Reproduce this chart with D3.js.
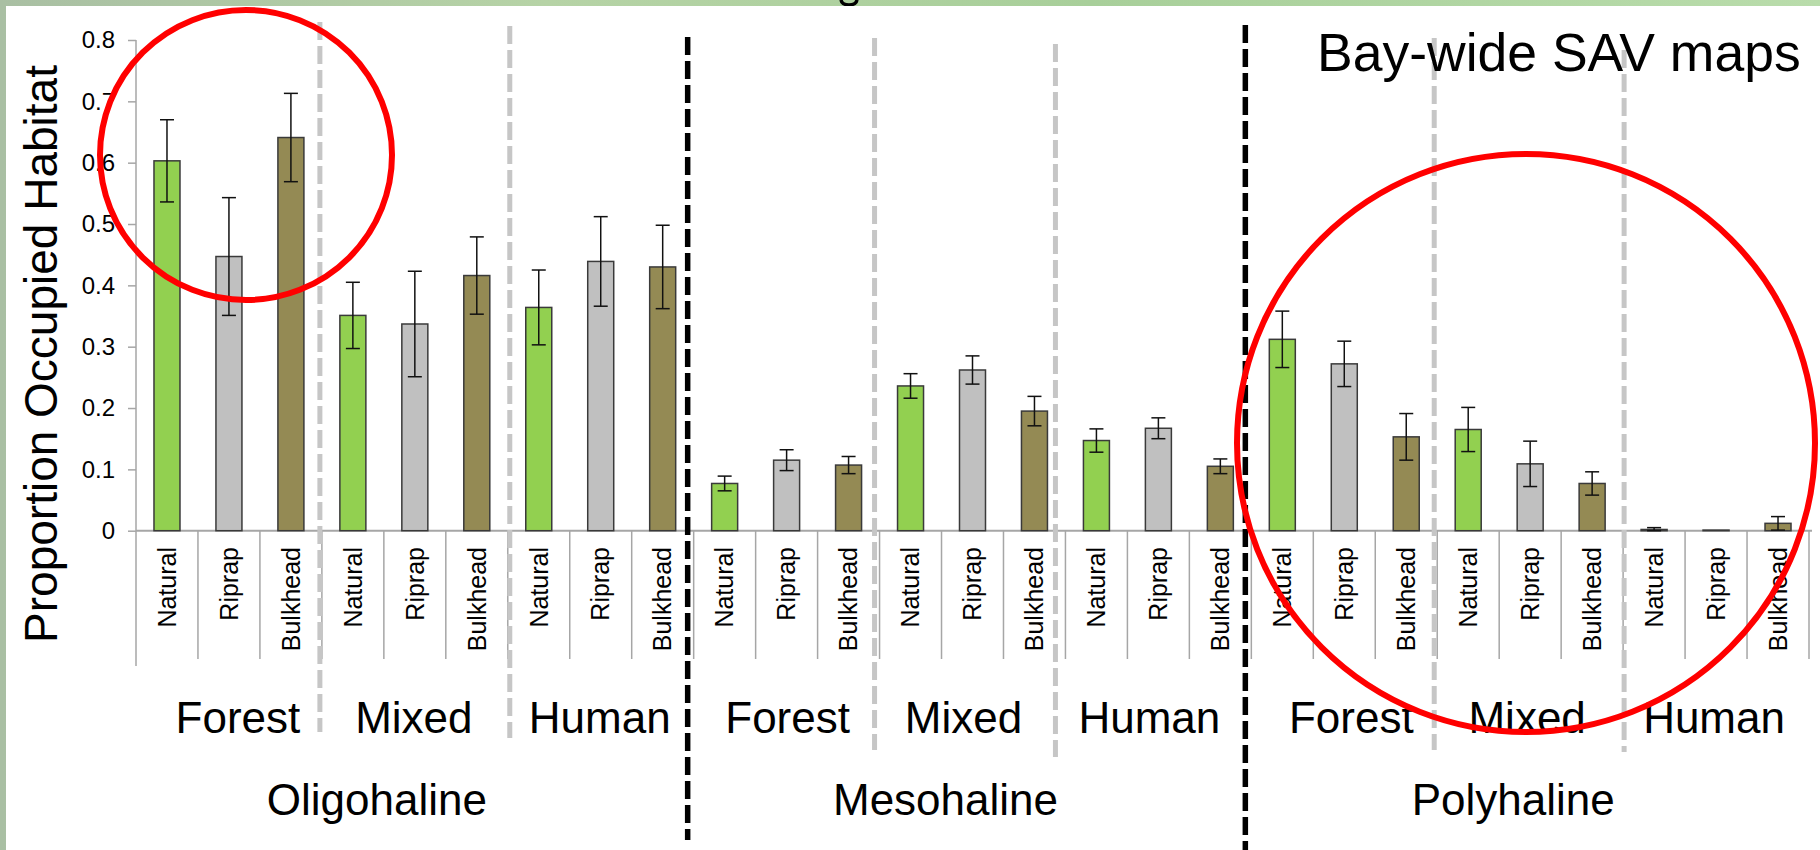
<!DOCTYPE html>
<html><head><meta charset="utf-8">
<script src="https://cdn.jsdelivr.net/npm/d3@7"></script>
<style>
html,body{margin:0;padding:0;background:#fff;}
svg{display:block;font-family:"Liberation Sans",Arial,Helvetica,sans-serif;}
</style>
</head><body>
<svg id="chart" width="1820" height="850"></svg>
<script>
// ---------- data ----------
const zones = ["Oligohaline", "Mesohaline", "Polyhaline"];
const landUses = ["Forest", "Mixed", "Human"];
const shorelines = ["Natural", "Riprap", "Bulkhead"];

// values ordered Forest(N,R,B), Mixed(N,R,B), Human(N,R,B)
const oligohalineValues = [0.603, 0.447, 0.641, 0.351, 0.337, 0.416, 0.364, 0.439, 0.430];
const oligohalineErrors = [0.067, 0.096, 0.072, 0.054, 0.086, 0.063, 0.061, 0.073, 0.068];
const mesohalineValues  = [0.077, 0.115, 0.107, 0.236, 0.262, 0.195, 0.147, 0.167, 0.105];
const mesohalineErrors  = [0.012, 0.017, 0.014, 0.020, 0.023, 0.024, 0.019, 0.017, 0.012];
const polyhalineValues  = [0.312, 0.272, 0.153, 0.165, 0.109, 0.077, 0.002, 0.001, 0.012];
const polyhalineErrors  = [0.046, 0.037, 0.038, 0.036, 0.037, 0.019, 0.003, 0.000, 0.011];

const yTicks = [0, 0.1, 0.2, 0.3, 0.4, 0.5, 0.6, 0.7, 0.8];
const yTickLabels = ["0", "0.1", "0.2", "0.3", "0.4", "0.5", "0.6", "0.7", "0.8"];
const yTitle = "Proportion Occupied Habitat";
const noteText = "Bay-wide SAV maps";

const shoreColors = ["#92d050", "#c0c0c0", "#948a54"];

// ---------- build rows ----------
const valuesByZone = [oligohalineValues, mesohalineValues, polyhalineValues];
const errorsByZone = [oligohalineErrors, mesohalineErrors, polyhalineErrors];
const rows = [];
zones.forEach((z, zi) => {
  landUses.forEach((g, gi) => {
    shorelines.forEach((s, si) => {
      const idx = gi * 3 + si;
      rows.push({zone: z, land: g, shore: s, si,
        key: z + "|" + g + "|" + s,
        value: valuesByZone[zi][idx], err: errorsByZone[zi][idx]});
    });
  });
});

// ---------- layout ----------
const svg = d3.select("#chart");
const W = 1820, H = 850;

// background (slide texture) + white panel
const defs = svg.append("defs");
const grad = defs.append("linearGradient").attr("id", "bg").attr("x1", "0").attr("x2", "1").attr("y1", "0").attr("y2", "0");
grad.append("stop").attr("offset", "0%").attr("stop-color", "#a9bfa3");
grad.append("stop").attr("offset", "30%").attr("stop-color", "#b6d3a6");
grad.append("stop").attr("offset", "60%").attr("stop-color", "#a8cf9a");
grad.append("stop").attr("offset", "100%").attr("stop-color", "#b9dcab");
svg.append("rect").attr("width", W).attr("height", H).attr("fill", "url(#bg)");
// fragment of the slide title's descender above the panel (drawn as a shape)
svg.append("path").attr("d", "M841,0 Q842,5 849,5 Q856,5 857,0")
  .attr("fill", "none").attr("stroke", "#000").attr("stroke-width", 3.5);
svg.append("rect").attr("x", 6).attr("y", 6).attr("width", W - 6).attr("height", H - 6).attr("fill", "#ffffff");

const x = d3.scaleBand().domain(rows.map(d => d.key)).range([136, 1809]).paddingInner(0).paddingOuter(0);
const y = d3.scaleLinear().domain([0, 0.8]).range([530.7, 40]);
const barW = 26;
const x0 = x.range()[0], step = x.step();
const boundary = k => x0 + k * step;

const axisColor = "#a6a6a6";

// y axis
const yAxis = svg.append("g").attr("transform", `translate(${x0},0)`)
  .call(d3.axisLeft(y).tickValues(yTicks).tickFormat((d, i) => yTickLabels[i]).tickSize(8).tickPadding(13));
yAxis.select(".domain").remove();
yAxis.selectAll(".tick line").attr("stroke", axisColor).attr("stroke-width", 1.5);
yAxis.selectAll(".tick text").attr("fill", "#000").style("font-size", "24px")
  .style("font-family", "'Liberation Sans',Arial,sans-serif");
svg.append("line").attr("x1", x0).attr("x2", x0).attr("y1", y(0.8)).attr("y2", 666)
  .attr("stroke", axisColor).attr("stroke-width", 1.5);

// baseline
svg.append("line").attr("x1", x0).attr("x2", boundary(27) + 3).attr("y1", y(0)).attr("y2", y(0))
  .attr("stroke", axisColor).attr("stroke-width", 2);

// category separators below the baseline
svg.append("g").selectAll("line").data(rows).join("line")
  .attr("x1", d => x(d.key) + x.bandwidth()).attr("x2", d => x(d.key) + x.bandwidth())
  .attr("y1", y(0)).attr("y2", 659)
  .attr("stroke", axisColor).attr("stroke-width", 1.5);

// bars
svg.append("g").selectAll("rect").data(rows).join("rect")
  .attr("x", d => x(d.key) + x.bandwidth() / 2 - barW / 2)
  .attr("y", d => y(d.value))
  .attr("width", barW)
  .attr("height", d => y(0) - y(d.value))
  .attr("fill", d => shoreColors[d.si])
  .attr("stroke", "#3a3a3a").attr("stroke-width", 1.5);

// error bars
const eb = svg.append("g").attr("stroke", "#111").attr("stroke-width", 1.5);
rows.filter(d => d.err > 0).forEach(d => {
  const cx = x(d.key) + x.bandwidth() / 2;
  const lo = Math.max(0, d.value - d.err), hi = d.value + d.err;
  eb.append("line").attr("x1", cx).attr("x2", cx).attr("y1", y(hi)).attr("y2", y(lo));
  eb.append("line").attr("x1", cx - 7).attr("x2", cx + 7).attr("y1", y(hi)).attr("y2", y(hi));
  eb.append("line").attr("x1", cx - 7).attr("x2", cx + 7).attr("y1", y(lo)).attr("y2", y(lo));
});

// shoreline tick labels (rotated)
svg.append("g").selectAll("text").data(rows).join("text")
  .attr("transform", d => `translate(${x(d.key) + x.bandwidth() / 2},547) rotate(-90)`)
  .attr("dy", "0.35em").attr("text-anchor", "end")
  .style("font-size", "25px").attr("fill", "#000")
  .text(d => d.shore);

// land-use group labels
const groupShift = [9, -1, -1, 1, -9, -9, 7, -3, -2];
const groups = [];
zones.forEach((z, zi) => landUses.forEach((g, gi) => groups.push({label: g, idx: zi * 3 + gi})));
svg.append("g").selectAll("text").data(groups).join("text")
  .attr("x", d => (boundary(d.idx * 3) + boundary(d.idx * 3 + 3)) / 2 + groupShift[d.idx])
  .attr("y", 733).attr("text-anchor", "middle")
  .style("font-size", "44px").attr("fill", "#000")
  .text(d => d.label);

// zone labels
const zoneShift = [-38, -27, -17];
svg.append("g").selectAll("text").data(zones).join("text")
  .attr("x", (d, i) => (boundary(i * 9) + boundary(i * 9 + 9)) / 2 + zoneShift[i])
  .attr("y", 815).attr("text-anchor", "middle")
  .style("font-size", "44px").attr("fill", "#000")
  .text(d => d);

// y title
svg.append("text")
  .attr("transform", `translate(57,354) rotate(-90)`)
  .attr("text-anchor", "middle")
  .style("font-size", "46px").attr("fill", "#000")
  .text(yTitle);

// dashed dividers (slide annotations)
const dividerIndex  = [3, 6, 9, 12, 15, 18, 21, 24];
const dividerMajor  = [false, false, true, false, false, true, false, false];
const dividerShift  = [-2, 2, -6, -5, -10, -6, -3, 1];
const dividerTop    = [22, 26, 37, 38, 44, 25, 38, 50];
const dividerBottom = [732, 738, 840, 750, 757, 850, 750, 752];
const dg = svg.append("g");
dividerIndex.forEach((k, i) => {
  const xx = boundary(k) + dividerShift[i];
  dg.append("line").attr("x1", xx).attr("x2", xx)
    .attr("y1", dividerTop[i]).attr("y2", dividerBottom[i])
    .attr("stroke", dividerMajor[i] ? "#000" : "#c6c6c6")
    .attr("stroke-width", dividerMajor[i] ? 5.5 : 5)
    .attr("stroke-dasharray", "18,6");
});

// note text
svg.append("text").attr("x", 1317).attr("y", 71)
  .style("font-size", "53.5px").attr("fill", "#000").text(noteText);

// red highlight ellipses
const ellipseCx = [246, 1526];
const ellipseCy = [155, 443];
const ellipseRx = [146, 289];
const ellipseRy = [145, 289];
svg.append("g").selectAll("ellipse").data(ellipseCx).join("ellipse")
  .attr("cx", (d, i) => ellipseCx[i]).attr("cy", (d, i) => ellipseCy[i])
  .attr("rx", (d, i) => ellipseRx[i]).attr("ry", (d, i) => ellipseRy[i])
  .attr("fill", "none").attr("stroke", "#ff0000").attr("stroke-width", 6);
</script>
</body></html>
